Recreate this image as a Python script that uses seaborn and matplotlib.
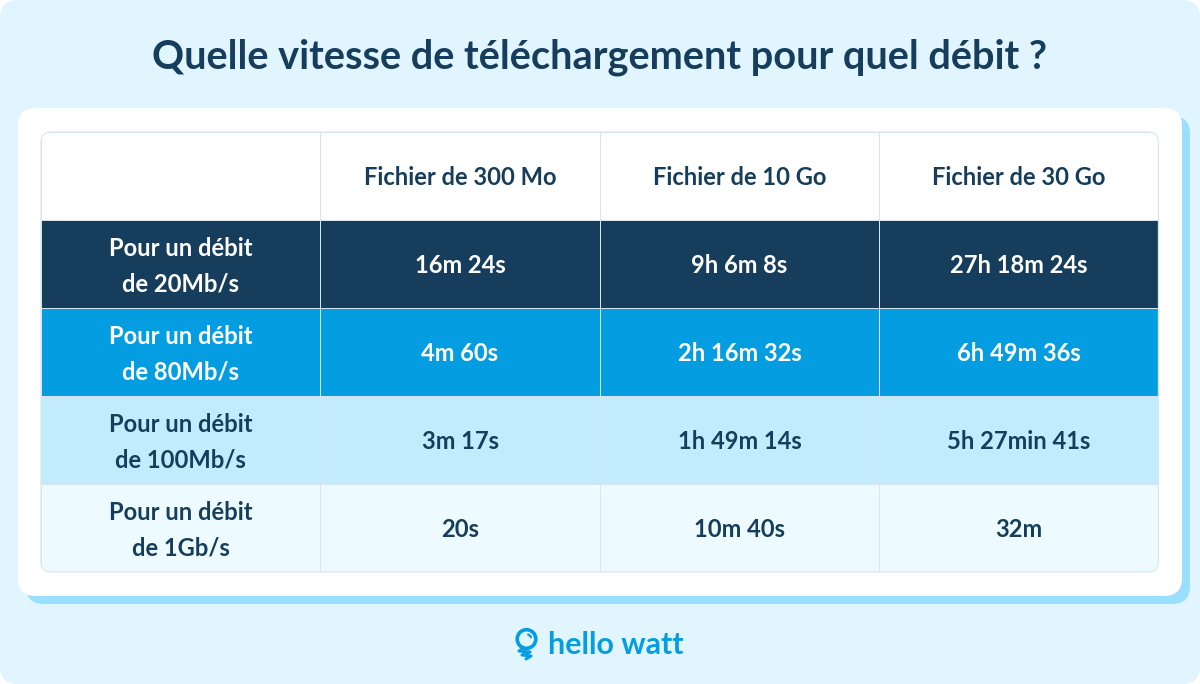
import numpy as np
import matplotlib
matplotlib.use("Agg")
import matplotlib.pyplot as plt
from matplotlib.colors import ListedColormap
from matplotlib.patches import FancyBboxPatch, Circle, Arc
import seaborn as sns

title = "Quelle vitesse de téléchargement pour quel débit ?"
columns = ["", "Fichier de 300 Mo", "Fichier de 10 Go", "Fichier de 30 Go"]
rows = ["Pour un débit\nde 20Mb/s", "Pour un débit\nde 80Mb/s", "Pour un débit\nde 100Mb/s", "Pour un débit\nde 1Gb/s"]
col_300mo = ["16m 24s", "4m 60s", "3m 17s", "20s"]
col_10go = ["9h 6m 8s", "2h 16m 32s", "1h 49m 14s", "10m 40s"]
col_30go = ["27h 18m 24s", "6h 49m 36s", "5h 27min 41s", "32m"]
row_tones = [0, 1, 2, 3, 4]
tone_colors = ["#FFFFFF", "#163E5C", "#049DE2", "#C2EBFD", "#EDFAFF"]
text_colors = ["#163E5C", "#FFFFFF", "#FFFFFF", "#163E5C", "#163E5C"]
brand = "hello watt"

BG = "#E0F5FF"
SHADOW = "#9ADFFF"
GRID = "#D9E5EE"
BLUE = "#049DE2"

sns.set_theme(style="white")
plt.rcParams["font.family"] = ["Lato", "DejaVu Sans"]

W, H = 1200, 684
fig = plt.figure(figsize=(W / 100, H / 100), dpi=100, facecolor="white")

bg = fig.add_axes([0, 0, 1, 1])
bg.set_xlim(0, W); bg.set_ylim(H, 0); bg.axis("off")


def rounded(ax, x0, y0, x1, y1, r, **kw):
    p = FancyBboxPatch((x0 + r, y0 + r), x1 - x0 - 2 * r, y1 - y0 - 2 * r,
                       boxstyle=f"round,pad={r},rounding_size={r}", **kw)
    ax.add_patch(p)
    return p


rounded(bg, 0, 0, W, H, 18, fc=BG, ec="none")
rounded(bg, 26, 116, 1190, 604, 18, fc=SHADOW, ec="none")
rounded(bg, 18, 108, 1182, 596, 18, fc="white", ec="none")

bg.text(600, 57, title, ha="center", va="center", fontsize=28.65,
        fontweight="bold", color="#163E5C")

# table
tx0, tx1, ty0, ty1 = 41, 1158.4, 132, 572
ax = fig.add_axes([tx0 / W, 1 - ty1 / H, (tx1 - tx0) / W, (ty1 - ty0) / H])
ax.patch.set_alpha(0)

grid = np.array([[t] * 4 for t in row_tones])
labels = [columns] + [[r, a, b, c] for r, a, b, c in zip(rows, col_300mo, col_10go, col_30go)]

sns.heatmap(grid, ax=ax, cmap=ListedColormap(tone_colors), vmin=-0.5, vmax=4.5,
            cbar=False, linewidths=0.7, linecolor=GRID, xticklabels=False,
            yticklabels=False, square=False)

for i, row in enumerate(labels):
    for j, s in enumerate(row):
        if s:
            ax.text(j + 0.5, i + 0.5 + 0.022, s, ha="center", va="center",
                    fontsize=17.1, fontweight="bold", color=text_colors[i],
                    linespacing=1.67)

clip = rounded(bg, tx0, ty0, tx1, ty1, 10, fc="none", ec="none", zorder=5)
fig.canvas.draw()
for coll in ax.collections:
    coll.set_clip_path(clip)
for sp in ax.spines.values():
    sp.set_visible(False)

top = fig.add_axes([0, 0, 1, 1]); top.set_xlim(0, W); top.set_ylim(H, 0); top.axis("off")
rounded(top, tx0, ty0, tx1, ty1, 10, fc="none", ec=GRID, lw=0.8)

# logo
top.add_patch(Circle((526.5, 639), 9.3, fc="none", ec=BLUE, lw=2.6))
top.add_patch(Arc((526.5, 639), 9.5, 9.5, theta1=-80, theta2=-10, ec=BLUE, lw=1.6))
top.plot([522, 519, 530, 522, 531, 526], [649, 651, 652, 655, 656, 659], color=BLUE, lw=2.2,
         solid_capstyle="round", solid_joinstyle="round")
top.text(548, 645, brand, ha="left", va="center", fontsize=21.9, fontweight="bold", color=BLUE)

fig.savefig("out.png", dpi=100, facecolor="white")
